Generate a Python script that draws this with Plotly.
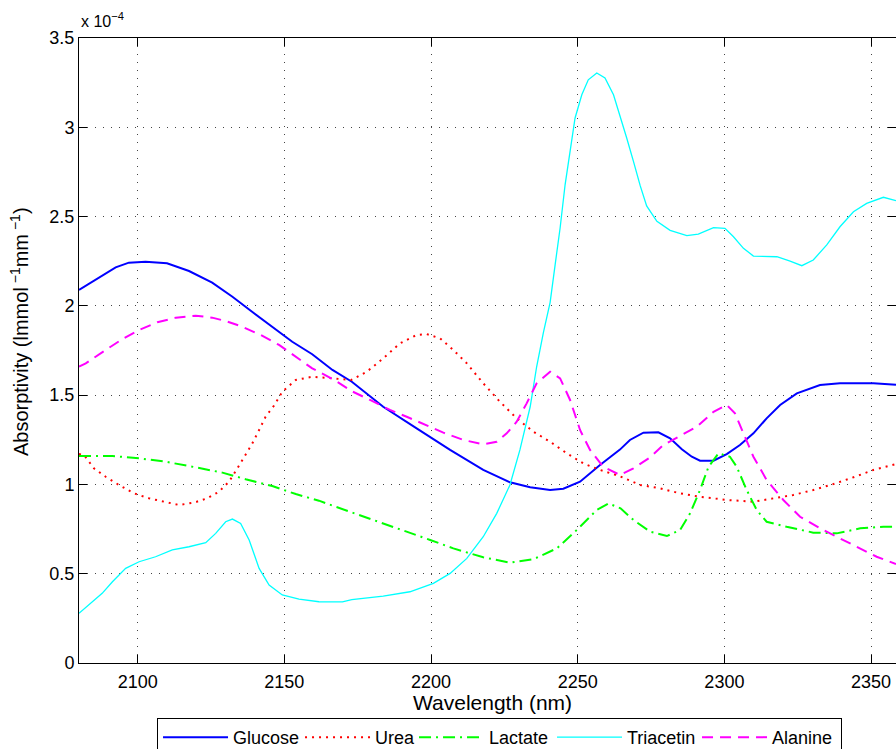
import plotly.graph_objects as go

# Absorptivity spectra (values in units of 1e-4 lmmol^-1 mm^-1) vs wavelength (nm)
glucose_nm = [2080, 2086.8, 2092.5, 2097.0, 2102.7, 2110.0, 2117.5, 2125.4, 2132.3, 2139.0,
              2146.0, 2152.7, 2159.5, 2166.4, 2173.0, 2183.7, 2195.1, 2206.5, 2217.8, 2226.9,
              2233.8, 2240.6, 2245.1, 2250.8, 2257.6, 2264.4, 2267.8, 2272.4, 2277.5, 2281.5,
              2285.5, 2288.9, 2291.7, 2296.3, 2300.8, 2305.3, 2309.9, 2314.4, 2319.0, 2324.7,
              2332.6, 2339.4, 2350.8, 2358.5]
glucose_abs = [2.089, 2.160, 2.216, 2.242, 2.247, 2.238, 2.195, 2.130, 2.051, 1.967,
               1.883, 1.799, 1.729, 1.641, 1.575, 1.435, 1.314, 1.193, 1.081, 1.012,
               0.984, 0.969, 0.976, 1.015, 1.109, 1.195, 1.249, 1.290, 1.292, 1.258,
               1.197, 1.155, 1.133, 1.133, 1.170, 1.221, 1.286, 1.370, 1.445, 1.510,
               1.557, 1.566, 1.566, 1.558]

urea_nm = [2080, 2081.7, 2085.1, 2089.1, 2093.6, 2098.8, 2103.9, 2109.6, 2114.1, 2119.2,
           2123.7, 2127.7, 2131.1, 2134.0, 2136.8, 2139.1, 2141.4, 2143.6, 2146.5, 2149.3,
           2153.9, 2159.5, 2166.4, 2172.8, 2178.1, 2183.7, 2189.4, 2195.1, 2198.5, 2203.1,
           2207.6, 2212.2, 2217.8, 2223.5, 2229.2, 2234.9, 2240.6, 2246.3, 2251.9, 2257.6,
           2264.0, 2271.3, 2278.1, 2284.9, 2291.7, 2300.8, 2309.9, 2316.7, 2323.5, 2330.3,
           2337.2, 2344.0, 2350.8, 2358.5]
urea_abs = [1.170, 1.165, 1.090, 1.043, 0.997, 0.950, 0.922, 0.900, 0.885, 0.898,
            0.922, 0.959, 1.015, 1.090, 1.165, 1.230, 1.305, 1.379, 1.442, 1.519,
            1.585, 1.603, 1.594, 1.585, 1.631, 1.706, 1.790, 1.837, 1.842, 1.818,
            1.753, 1.678, 1.566, 1.463, 1.370, 1.295, 1.239, 1.174, 1.118, 1.081,
            1.048, 0.997, 0.978, 0.950, 0.931, 0.913, 0.903, 0.922, 0.941, 0.969,
            1.002, 1.040, 1.081, 1.114]

lactate_nm = [2080, 2091.4, 2100.5, 2109.6, 2117.5, 2128.9, 2136.8, 2145.9, 2153.9, 2161.8,
              2167.5, 2173.6, 2182.6, 2191.7, 2199.7, 2207.6, 2217.8, 2226.9, 2234.9, 2242.9,
              2249.7, 2256.5, 2260.5, 2264.6, 2269.0, 2274.7, 2280.4, 2284.9, 2288.3, 2291.7,
              2294.6, 2298.0, 2301.9, 2304.2, 2307.6, 2311.0, 2314.4, 2321.2, 2330.3, 2338.3,
              2346.3, 2354.2, 2358.5]
lactate_abs = [1.159, 1.159, 1.146, 1.127, 1.103, 1.066, 1.029, 0.991, 0.946, 0.909,
               0.875, 0.840, 0.791, 0.735, 0.689, 0.642, 0.592, 0.562, 0.581, 0.642,
               0.745, 0.857, 0.894, 0.866, 0.801, 0.735, 0.711, 0.745, 0.838, 0.969,
               1.099, 1.174, 1.155, 1.099, 0.969, 0.857, 0.791, 0.763, 0.730, 0.726,
               0.754, 0.763, 0.763]

triacetin_nm = [2080, 2083.4, 2087.9, 2091.4, 2095.9, 2100.5, 2106.1, 2111.8, 2117.5, 2123.2,
                2126.6, 2130.0, 2132.3, 2135.1, 2138.0, 2141.4, 2144.8, 2149.3, 2155.0, 2161.8,
                2169.8, 2173.0, 2183.7, 2192.8, 2200.8, 2206.5, 2212.2, 2217.8, 2222.4, 2226.9,
                2230.3, 2233.8, 2236.0, 2238.3, 2240.6, 2242.3, 2244.0, 2245.7, 2247.4, 2249.1,
                2251.4, 2253.6, 2256.5, 2259.3, 2262.2, 2264.4, 2266.7, 2269.0, 2271.3, 2273.5,
                2277.0, 2281.5, 2287.2, 2291.1, 2296.3, 2300.2, 2303.1, 2306.5, 2309.9, 2317.9,
                2322.4, 2326.4, 2330.3, 2334.9, 2339.4, 2344.0, 2348.5, 2354.2, 2358.5]
triacetin_abs = [0.278, 0.325, 0.390, 0.455, 0.530, 0.567, 0.595, 0.633, 0.651, 0.674,
                 0.726, 0.791, 0.806, 0.782, 0.689, 0.530, 0.437, 0.381, 0.358, 0.343,
                 0.342, 0.355, 0.375, 0.399, 0.446, 0.502, 0.586, 0.707, 0.838, 0.997,
                 1.193, 1.435, 1.659, 1.850, 2.020, 2.230, 2.436, 2.678, 2.866, 3.052,
                 3.182, 3.266, 3.304, 3.276, 3.182, 3.070, 2.940, 2.809, 2.673, 2.560,
                 2.473, 2.423, 2.393, 2.402, 2.438, 2.434, 2.387, 2.322, 2.279, 2.275,
                 2.251, 2.225, 2.257, 2.341, 2.443, 2.527, 2.574, 2.608, 2.589]

alanine_nm = [2080, 2082.3, 2089.1, 2094.8, 2100.5, 2106.7, 2113.0, 2119.8, 2125.4, 2130.0,
              2135.7, 2141.9, 2148.2, 2153.9, 2159.5, 2167.0, 2173.0, 2179.2, 2186.0, 2191.7,
              2197.4, 2204.2, 2211.0, 2217.8, 2222.4, 2225.8, 2229.2, 2232.6, 2236.0, 2240.6,
              2244.0, 2247.4, 2250.8, 2254.2, 2258.7, 2264.4, 2269.0, 2274.7, 2279.2, 2284.9,
              2290.6, 2296.3, 2300.8, 2303.6, 2306.5, 2309.9, 2314.4, 2320.1, 2325.8, 2332.6,
              2339.4, 2346.3, 2351.9, 2358.5]
alanine_abs = [1.660, 1.678, 1.753, 1.814, 1.865, 1.908, 1.934, 1.945, 1.934, 1.915,
               1.883, 1.837, 1.781, 1.715, 1.650, 1.585, 1.522, 1.473, 1.417, 1.379,
               1.338, 1.290, 1.249, 1.225, 1.239, 1.286, 1.351, 1.454, 1.566, 1.631,
               1.594, 1.473, 1.305, 1.193, 1.099, 1.053, 1.090, 1.152, 1.221, 1.271,
               1.323, 1.407, 1.445, 1.398, 1.286, 1.155, 1.025, 0.913, 0.819, 0.754,
               0.698, 0.642, 0.595, 0.554]

x_ticks = [2100, 2150, 2200, 2250, 2300, 2350]
y_ticks = [0, 0.5, 1, 1.5, 2, 2.5, 3, 3.5]

# name, x, y, colour, dash pattern, line width, legend entry width
series = [
    ("Glucose", glucose_nm, glucose_abs, "#0000FF", "solid", 2, 62),
    ("Urea", urea_nm, urea_abs, "#FF0000", "2px,5px", 2, 34),
    ("Lactate", lactate_nm, lactate_abs, "#00FF00", "12px,5px,2px,5px", 2, 58),
    ("Triacetin", triacetin_nm, triacetin_abs, "#00FFFF", "solid", 1.3, 65),
    ("Alanine", alanine_nm, alanine_abs, "#FF00FF", "11px,7px", 2, 64),
]

fig = go.Figure()
for name, xs, ys, color, dash, width, lw in series:
    fig.add_trace(go.Scatter(x=xs, y=ys, mode="lines", name=name, legendwidth=lw,
                             line=dict(color=color, dash=dash, width=width)))

font_family = "Liberation Sans, Arial, Helvetica, sans-serif"
axis_common = dict(
    showline=True, linecolor="black", linewidth=1, mirror="ticks",
    ticks="inside", ticklen=8, tickcolor="black", tickwidth=1,
    showgrid=True, gridcolor="#444444", griddash="1px,7px", gridwidth=1,
    zeroline=False, tickfont=dict(family=font_family, size=18, color="black"),
)

fig.update_xaxes(range=[2080, 2358.5], tickvals=x_ticks, ticklabelstandoff=2, **axis_common)
fig.update_yaxes(range=[0, 3.5], tickvals=y_ticks, **axis_common)

fig.update_layout(
    width=896, height=749, autosize=False,
    margin=dict(l=79, r=0, t=38, b=86, autoexpand=False),
    paper_bgcolor="white", plot_bgcolor="white",
    font=dict(family=font_family, color="black"),
    showlegend=True,
    legend=dict(orientation="h", x=0.0955, y=-0.088, xanchor="left", yanchor="top",
                itemwidth=65, entrywidthmode="pixels",
                bgcolor="white", bordercolor="black", borderwidth=1,
                font=dict(family=font_family, size=18, color="black")),
    annotations=[
        dict(text="Wavelength (nm)", xref="paper", yref="paper", x=0.5067, y=-0.0624,
             xanchor="center", yanchor="middle", showarrow=False,
             font=dict(family=font_family, size=21, color="black")),
        dict(text="Absorptivity (lmmol<sup> −1</sup>mm<sup> −1</sup>)", xref="paper", yref="paper",
             x=-0.0735, y=0.531, xanchor="center", yanchor="middle", textangle=-90,
             showarrow=False, font=dict(family=font_family, size=20, color="black")),
        dict(text="x 10<sup>−4</sup>", xref="paper", yref="paper", x=0.0, y=1.0096,
             xanchor="left", yanchor="bottom", showarrow=False,
             font=dict(family=font_family, size=16, color="black")),
    ],
)

fig.write_html("out.html")
